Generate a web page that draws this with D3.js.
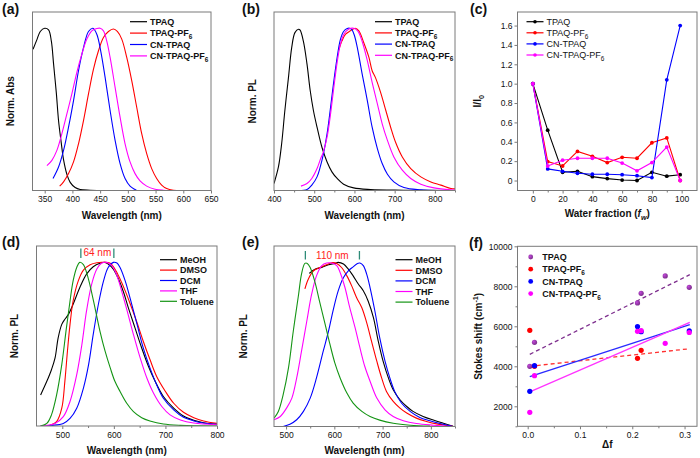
<!DOCTYPE html>
<html><head><meta charset="utf-8">
<script src="https://cdn.jsdelivr.net/npm/d3@7"></script>
<style>
body{margin:0;background:#fff}
svg{display:block}
text{font-family:"Liberation Sans",Arial,Helvetica,sans-serif;fill:#111}
</style>
</head><body>
<svg id="chart" width="700" height="458"></svg>
<script>
// ---------------- DATA ----------------
const seriesNames = ["TPAQ","TPAQ-PF6","CN-TPAQ","CN-TPAQ-PF6"];
const solventNames = ["MeOH","DMSO","DCM","THF","Toluene"];

// (a) normalized absorption  [wavelength nm, norm. abs]
const absTPAQ = [[329,0.87],[336,0.93],[342,0.98],[350,1.0],[357,0.99],[362,0.92],[366,0.78],[371,0.6],[375,0.43],[380,0.29],[384,0.19],[390,0.10],[396,0.05],[405,0.018],[414,0.006],[432,0.002],[463,0]];
const absTPAQPF6 = [[377,0.027],[384,0.053],[393,0.104],[402,0.176],[411,0.288],[420,0.431],[429,0.595],[438,0.748],[447,0.861],[456,0.943],[465,0.98],[474,0.995],[481,0.98],[489,0.933],[498,0.82],[507,0.677],[516,0.513],[525,0.35],[534,0.227],[543,0.135],[552,0.074],[561,0.033],[570,0.012],[582,0.002],[600,0]];
const absCNTPAQ = [[365,0.074],[375,0.145],[384,0.247],[393,0.39],[402,0.554],[411,0.738],[420,0.88],[429,0.98],[437,1.0],[444,0.963],[451,0.861],[459,0.697],[468,0.493],[477,0.309],[486,0.166],[495,0.074],[504,0.027],[513,0.006],[516,0]];
const absCNTPAQPF6 = [[354,0.153],[363,0.186],[372,0.247],[381,0.35],[390,0.472],[399,0.595],[408,0.728],[417,0.84],[426,0.933],[435,0.984],[444,0.998],[450,1.0],[456,0.984],[462,0.92],[468,0.82],[477,0.636],[486,0.452],[495,0.288],[504,0.176],[513,0.104],[522,0.059],[534,0.027],[549,0.008],[564,0.002],[600,0]];

// (b) normalized PL
const plTPAQ = [[400,0.043],[411,0.145],[419,0.288],[427,0.493],[436,0.697],[444,0.88],[452,0.973],[461,0.994],[465,0.988],[473,0.92],[482,0.78],[490,0.616],[498,0.493],[507,0.39],[519,0.268],[532,0.176],[544,0.115],[557,0.074],[573,0.039],[598,0.016],[640,0.006],[723,0.002],[850,0]];
const plTPAQPF6 = [[561,0.865],[569,0.922],[578,0.963],[590,0.984],[602,1.0],[611,0.984],[623,0.912],[636,0.82],[644,0.738],[652,0.697],[665,0.605],[678,0.493],[690,0.39],[702,0.299],[719,0.207],[740,0.135],[765,0.084],[790,0.053],[815,0.033],[840,0.012],[850,0.01]];
const plCNTPAQ = [[457,0],[482,0.006],[494,0.033],[507,0.084],[515,0.145],[523,0.227],[532,0.35],[540,0.5],[548,0.66],[557,0.82],[565,0.93],[573,0.98],[582,0.998],[588,1.0],[594,0.99],[600,0.955],[608,0.87],[619,0.72],[632,0.554],[644,0.39],[657,0.258],[669,0.166],[682,0.1],[698,0.053],[723,0.018],[765,0.004],[807,0]];
const plCNTPAQPF6 = [[467,0.027],[482,0.043],[494,0.074],[507,0.135],[515,0.19],[523,0.24],[532,0.33],[540,0.46],[548,0.62],[557,0.79],[565,0.9],[573,0.96],[586,0.995],[598,1.0],[608,0.984],[619,0.92],[632,0.8],[644,0.667],[657,0.534],[669,0.411],[682,0.309],[698,0.207],[719,0.125],[740,0.074],[765,0.039],[798,0.016],[840,0.004],[850,0.003]];

// (c) I/I0 vs water fraction
const waterFraction = [0,10,20,30,40,50,60,70,80,90,99];
const ratioTPAQ = [1.0,0.52,0.085,0.095,0.04,0.02,0.005,0.0,0.085,0.045,0.06];
const ratioTPAQPF6 = [1.0,0.195,0.15,0.30,0.25,0.185,0.24,0.23,0.39,0.44,0.0];
const ratioCNTPAQ = [1.0,0.12,0.095,0.075,0.065,0.065,0.06,0.05,0.03,1.04,1.60];
const ratioCNTPAQPF6 = [1.0,0.15,0.21,0.23,0.23,0.23,0.18,0.10,0.185,0.345,0.0];

// (d) solvatochromic PL, TPAQ
const dMeOH = [[458,0.19],[470,0.273],[479,0.344],[486,0.416],[492,0.539],[499,0.621],[505,0.652],[512,0.682],[521,0.744],[534,0.846],[547,0.928],[560,0.973],[573,0.994],[583,1.0],[589,0.99],[599,0.959],[609,0.898],[619,0.816],[628,0.723],[641,0.6],[654,0.477],[667,0.365],[680,0.273],[696,0.18],[716,0.109],[735,0.061],[755,0.035],[774,0.02],[800,0.01]];
const dDMSO = [[458,0],[476,0.004],[489,0.027],[499,0.109],[505,0.273],[510,0.457],[515,0.621],[521,0.764],[531,0.887],[541,0.953],[554,0.986],[567,0.998],[580,1.0],[593,0.994],[602,0.959],[612,0.898],[622,0.826],[632,0.744],[645,0.631],[657,0.518],[670,0.406],[683,0.303],[700,0.211],[716,0.139],[735,0.084],[755,0.051],[774,0.031],[800,0.016]];
const dDCM = [[458,0],[480,0.004],[502,0.016],[515,0.047],[528,0.109],[541,0.232],[551,0.375],[560,0.56],[570,0.744],[580,0.887],[589,0.969],[599,1.0],[606,0.996],[612,0.969],[622,0.887],[632,0.775],[645,0.621],[657,0.477],[670,0.355],[683,0.252],[696,0.17],[716,0.098],[735,0.053],[755,0.031],[774,0.018],[800,0.01]];
const dTHF = [[458,0],[486,0.016],[502,0.057],[515,0.15],[528,0.314],[538,0.498],[547,0.703],[557,0.867],[567,0.959],[576,0.994],[586,1.0],[596,0.98],[606,0.918],[615,0.826],[625,0.713],[638,0.559],[651,0.416],[664,0.293],[677,0.2],[693,0.119],[709,0.068],[729,0.037],[755,0.018],[800,0.008]];
const dToluene = [[458,0],[470,0.016],[479,0.068],[489,0.19],[499,0.375],[508,0.6],[515,0.764],[521,0.887],[528,0.969],[534,1.0],[541,0.986],[547,0.939],[554,0.857],[564,0.713],[573,0.58],[583,0.457],[593,0.355],[602,0.273],[612,0.211],[625,0.139],[638,0.088],[654,0.051],[670,0.031],[696,0.012],[729,0.004],[800,0]];

// (e) solvatochromic PL, CN-TPAQ
const eMeOH = [[548,0.933],[560,0.959],[574,0.969],[588,0.986],[601,0.994],[608,1.0],[619,0.99],[629,0.959],[639,0.918],[650,0.867],[660,0.827],[670,0.765],[681,0.663],[691,0.52],[701,0.398],[712,0.296],[722,0.224],[736,0.163],[750,0.122],[763,0.092],[784,0.061],[805,0.039],[826,0.02],[846,0.002]];
const eDMSO = [[539,0.839],[546,0.898],[557,0.949],[570,0.969],[584,0.986],[594,0.998],[605,0.994],[615,0.969],[626,0.918],[636,0.857],[646,0.786],[657,0.724],[667,0.633],[677,0.52],[688,0.398],[698,0.296],[708,0.214],[722,0.153],[736,0.112],[750,0.082],[770,0.051],[791,0.031],[812,0.016],[846,0.002]];
const eDCM = [[494,0],[508,0.014],[522,0.041],[536,0.092],[550,0.173],[563,0.296],[577,0.459],[588,0.582],[598,0.714],[608,0.827],[619,0.908],[629,0.949],[639,0.973],[648,0.994],[653,0.996],[660,0.98],[667,0.929],[674,0.847],[684,0.704],[694,0.541],[705,0.398],[715,0.296],[725,0.214],[739,0.143],[757,0.092],[777,0.055],[798,0.035],[819,0.018],[846,0]];
const eTHF = [[475,0.041],[488,0.061],[501,0.112],[512,0.173],[522,0.296],[532,0.459],[543,0.643],[553,0.806],[563,0.918],[574,0.98],[584,0.996],[594,0.996],[605,0.98],[612,0.939],[622,0.847],[632,0.724],[643,0.602],[653,0.48],[663,0.367],[674,0.276],[688,0.173],[705,0.102],[722,0.061],[743,0.035],[770,0.018],[805,0.008],[846,0]];
const eToluene = [[475,0.051],[484,0.092],[494,0.194],[505,0.357],[515,0.582],[526,0.806],[532,0.929],[539,0.994],[544,0.994],[550,0.969],[560,0.878],[570,0.755],[581,0.622],[591,0.5],[601,0.388],[612,0.296],[626,0.204],[639,0.143],[657,0.092],[674,0.061],[694,0.039],[722,0.02],[757,0.008],[798,0.002]];

// (f) Stokes shift vs delta f
const dfTPAQ = [0.004,0.013,0.210,0.217,0.263,0.309];
const ssTPAQ = [4000,5200,7170,7650,8520,7950];
const dfTPAQPF6 = [0.004,0.013,0.210,0.217];
const ssTPAQPF6 = [5800,4000,4400,4800];
const dfCNTPAQ = [0.004,0.013,0.210,0.217,0.309];
const ssCNTPAQ = [2750,4030,5990,5730,5770];
const dfCNTPAQPF6 = [0.004,0.013,0.210,0.217,0.263,0.309];
const ssCNTPAQPF6 = [1700,3530,5750,5780,5150,5690];
// linear fits (end points: [delta f, Stokes shift])
const fitTPAQ = [[0.004,4600],[0.31,8580]];
const fitTPAQPF6 = [[0.004,4000],[0.31,4880]];
const fitCNTPAQ = [[0.004,3480],[0.31,6080]];
const fitCNTPAQPF6 = [[0.004,2720],[0.31,6200]];

// annotations (peak wavelengths)
const shiftD = {label:"64 nm", from:536, to:600};
const shiftE = {label:"110 nm", from:540, to:652};

// tick values
const ticksA = [350,400,450,500,550,600,650];
const ticksB = [400,500,600,700,800];
const ticksC_x = [0,20,40,60,80,100];
const ticksC_y = [0,0.2,0.4,0.6,0.8,1.0,1.2,1.4,1.6];
const ticksD = [500,600,700,800];
const ticksE = [500,600,700,800];
const ticksF_x = [0.0,0.1,0.2,0.3];
const ticksF_y = [2000,4000,6000,8000,10000];

// ---------------- DRAWING ----------------
const COL4 = ["#000000","#ff0000","#0000ff","#ff00ff"];
const COL5 = ["#000000","#ff0000","#0000ff","#ff00ff","#149414"];
const PURPLE = "#7e2f8e";
const TEAL = "#2e8b78";
const FRAME = "#7a7a7a";
const TICKFS = 8.5, LEGFS = 9;
const svg = d3.select("#chart");
const defs = svg.append("defs");

function rich(sel, parts, fs){
  let off = 0;
  parts.forEach(p=>{
    const t = sel.append("tspan").text(p.t);
    let target = 0;
    if (p.sub){ target = fs*0.3; t.attr("font-size", fs*0.72); }
    if (p.sup){ target = -fs*0.38; t.attr("font-size", fs*0.72); }
    if (target - off !== 0) t.attr("dy", target - off);
    off = target;
    if (p.it) t.attr("font-style","italic");
  });
  return sel;
}
function nameParts(n){
  if (n.endsWith("PF6")) return [{t:n.slice(0,-1)},{t:"6",sub:true}];
  return [{t:n}];
}

let clipId = 0;
function makePanel(box, xd, yd){
  const g = svg.append("g");
  const x = d3.scaleLinear().domain(xd).range([box.l, box.r]);
  const y = d3.scaleLinear().domain(yd).range([box.b, box.t]);
  const id = "clip"+(clipId++);
  defs.append("clipPath").attr("id", id).append("rect")
    .attr("x", box.l).attr("y", box.t).attr("width", box.r-box.l).attr("height", box.b-box.t);
  const plot = g.append("g").attr("clip-path", `url(#${id})`);
  g.append("rect").attr("x", box.l).attr("y", box.t).attr("width", box.r-box.l).attr("height", box.b-box.t)
    .attr("fill","none").attr("stroke", FRAME).attr("stroke-width",1);
  return {g, plot, x, y, box};
}
function styleAxis(a){
  a.select(".domain").remove();
  a.selectAll(".tick line").attr("stroke", FRAME);
  a.selectAll("text").attr("font-size", TICKFS).attr("fill","#222")
    .attr("font-family",'"Liberation Sans",Arial,sans-serif');
}
function xAxis(p, ticks, minor, fmt){
  if (minor) {
    const m = p.g.append("g").attr("transform",`translate(0,${p.box.b})`)
      .call(d3.axisBottom(p.x).tickValues(minor).tickSize(2).tickFormat(""));
    styleAxis(m);
  }
  const a = p.g.append("g").attr("transform",`translate(0,${p.box.b})`)
    .call(d3.axisBottom(p.x).tickValues(ticks).tickSize(3).tickPadding(2.5).tickFormat(fmt || d3.format("d")));
  styleAxis(a);
}
function yAxis(p, ticks, minor, fmt){
  if (minor) {
    const m = p.g.append("g").attr("transform",`translate(${p.box.l},0)`)
      .call(d3.axisLeft(p.y).tickValues(minor).tickSize(2).tickFormat(""));
    styleAxis(m);
  }
  const a = p.g.append("g").attr("transform",`translate(${p.box.l},0)`)
    .call(d3.axisLeft(p.y).tickValues(ticks).tickSize(3).tickPadding(2).tickFormat(fmt));
  styleAxis(a);
}
function xTitle(p, parts, dy){
  const t = p.g.append("text").attr("x",(p.box.l+p.box.r)/2).attr("y", p.box.b+dy)
    .attr("text-anchor","middle").attr("font-size",10).attr("font-weight","bold");
  rich(t, parts, 10);
}
function yTitle(p, parts, xb){
  const t = p.g.append("text").attr("transform",`translate(${xb},${(p.box.t+p.box.b)/2}) rotate(-90)`)
    .attr("text-anchor","middle").attr("font-size",10).attr("font-weight","bold");
  rich(t, parts, 10);
}
function panelLabel(txt, x, y){
  svg.append("text").attr("x",x).attr("y",y).attr("font-size",14).attr("font-weight","bold").text(txt);
}
function curve(p, data, color, w){
  p.plot.append("path").datum(data).attr("fill","none").attr("stroke",color).attr("stroke-width",w||1.1)
    .attr("stroke-linejoin","round")
    .attr("d", d3.line().x(d=>p.x(d[0])).y(d=>p.y(d[1])).curve(d3.curveCatmullRom.alpha(0.5)));
}
function lineLegend(p, names, colors, x0, y0, dy, bold, withMarker){
  names.forEach((n,i)=>{
    const yy = y0 + i*dy;
    p.g.append("line").attr("x1",x0).attr("x2",x0+17).attr("y1",yy).attr("y2",yy)
      .attr("stroke",colors[i]).attr("stroke-width",1.2);
    if (withMarker) p.g.append("circle").attr("cx",x0+8.5).attr("cy",yy).attr("r",1.8).attr("fill",colors[i]);
    const t = p.g.append("text").attr("x",x0+20).attr("y",yy+3.2).attr("font-size",LEGFS)
      .attr("font-weight", bold ? "bold" : "normal");
    rich(t, nameParts(n), LEGFS);
  });
}

// ---- (a) ----
const pa = makePanel({l:32.5,r:211,t:12,b:190.5},[328,650],[0,1.1]);
[absTPAQ,absTPAQPF6,absCNTPAQ,absCNTPAQPF6].forEach((d,i)=>curve(pa,d,COL4[i]));
xAxis(pa, ticksA, null);
xTitle(pa,[{t:"Wavelength (nm)"}],28.5);
yTitle(pa,[{t:"Norm. Abs"}],14);
lineLegend(pa, seriesNames, COL4, 130, 21.7, 11.4, true);
panelLabel("(a)",2,14);

// ---- (b) ----
const pb = makePanel({l:274,r:455,t:12,b:190.5},[400,850],[0,1.1]);
[plTPAQ,plTPAQPF6,plCNTPAQ,plCNTPAQPF6].forEach((d,i)=>curve(pb,d,COL4[i]));
xAxis(pb, ticksB, [450,550,650,750,850]);
xTitle(pb,[{t:"Wavelength (nm)"}],28.5);
yTitle(pb,[{t:"Norm. PL"}],256);
lineLegend(pb, seriesNames, COL4, 375, 21.7, 11.2, true);
panelLabel("(b)",242,14);

// ---- (c) ----
const pc = makePanel({l:517.5,r:697,t:12,b:190.5},[-10.3,110.3],[-0.103,1.74]);
[ratioTPAQ,ratioTPAQPF6,ratioCNTPAQ,ratioCNTPAQPF6].forEach((vals,i)=>{
  const pts = waterFraction.map((w,k)=>[w, vals[k]]);
  pc.plot.append("path").datum(pts).attr("fill","none").attr("stroke",COL4[i]).attr("stroke-width",1.1)
    .attr("d", d3.line().x(d=>pc.x(d[0])).y(d=>pc.y(d[1])));
  pc.plot.selectAll(null).data(pts).enter().append("circle")
    .attr("cx",d=>pc.x(d[0])).attr("cy",d=>pc.y(d[1])).attr("r",1.9).attr("fill",COL4[i]);
});
xAxis(pc, ticksC_x, [10,30,50,70,90]);
yAxis(pc, ticksC_y, null, d=> d===0 ? "0" : d3.format(".1f")(d));
xTitle(pc,[{t:"Water fraction ("},{t:"f",it:true},{t:"w",sub:true,it:true},{t:")"}],26);
yTitle(pc,[{t:"I/I"},{t:"0",sub:true}],481);
lineLegend(pc, seriesNames, COL4, 526.5, 21.7, 11.1, false, true);
panelLabel("(c)",470,14);

// ---- (d) ----
const pd = makePanel({l:36.5,r:217,t:246,b:426},[450,800],[0,1.1]);
[dMeOH,dDMSO,dDCM,dTHF,dToluene].forEach((d,i)=>curve(pd,d,COL5[i]));
xAxis(pd, ticksD, [550,650,750]);
xTitle(pd,[{t:"Wavelength (nm)"}],27.5);
yTitle(pd,[{t:"Norm. PL"}],18);
lineLegend(pd, solventNames, COL5, 160, 259.7, 10.4, true);
panelLabel("(d)",2,247);

// ---- (e) ----
const pe = makePanel({l:274,r:455,t:246,b:426.5},[475,850],[0,1.1]);
[eMeOH,eDMSO,eDCM,eTHF,eToluene].forEach((d,i)=>curve(pe,d,COL5[i]));
xAxis(pe, ticksE, [550,650,750,850]);
xTitle(pe,[{t:"Wavelength (nm)"}],27);
yTitle(pe,[{t:"Norm. PL"}],247);
lineLegend(pe, solventNames, COL5, 395.5, 259.7, 10.6, true);
panelLabel("(e)",242,247);

// annotations d/e
function shiftMark(p, s, yTop, yBot, tb){
  [s.from, s.to].forEach(w=>{
    p.g.append("line").attr("x1",p.x(w)).attr("x2",p.x(w)).attr("y1",yTop).attr("y2",yBot)
      .attr("stroke",TEAL).attr("stroke-width",1.3);
  });
  p.g.append("text").attr("x",(p.x(s.from)+p.x(s.to))/2).attr("y",tb).attr("text-anchor","middle")
    .attr("font-size",10).style("fill","#ff2020").text(s.label);
}
shiftMark(pd, shiftD, 248.5, 258, 256);
shiftMark(pe, shiftE, 251, 259.5, 259);

// ---- (f) ----
const pf = makePanel({l:517.5,r:697,t:246.3,b:426.3},[-0.0195,0.3238],[1000,10000]);
const fitSty = [{c:PURPLE,dash:"4,3"},{c:"#ff3030",dash:"4,3"},{c:"#2a2aff",dash:null},{c:"#ff33ff",dash:null}];
[fitTPAQ,fitTPAQPF6,fitCNTPAQ,fitCNTPAQPF6].forEach((d,i)=>{
  pf.plot.append("path").datum(d).attr("fill","none").attr("stroke",fitSty[i].c).attr("stroke-width",1.3)
    .attr("stroke-dasharray",fitSty[i].dash)
    .attr("d", d3.line().x(v=>pf.x(v[0])).y(v=>pf.y(v[1])));
});
const FCOL = [PURPLE,"#ff0000","#0000ff","#ff00ff"];
FCOL.forEach((c,i)=>{
  const gr = defs.append("radialGradient").attr("id","ball"+i).attr("cx","35%").attr("cy","35%").attr("r","65%");
  gr.append("stop").attr("offset","0%").attr("stop-color",d3.color(c).brighter(1.2));
  gr.append("stop").attr("offset","100%").attr("stop-color",c);
});
[[dfTPAQ,ssTPAQ],[dfTPAQPF6,ssTPAQPF6],[dfCNTPAQ,ssCNTPAQ],[dfCNTPAQPF6,ssCNTPAQPF6]].forEach((s,i)=>{
  const pts = s[0].map((x,k)=>[x,s[1][k]]);
  pf.plot.selectAll(null).data(pts).enter().append("circle")
    .attr("cx",d=>pf.x(d[0])).attr("cy",d=>pf.y(d[1])).attr("r",2.6).attr("fill",`url(#ball${i})`);
});
xAxis(pf, ticksF_x, [0.05,0.15,0.25], d3.format(".1f"));
yAxis(pf, ticksF_y, [1000,3000,5000,7000,9000], d3.format("d"));
xTitle(pf,[{t:"\u0394f"}],22);
yTitle(pf,[{t:"Stokes shift  (cm"},{t:"-1",sup:true},{t:")"}],482);
seriesNames.forEach((n,i)=>{
  const yy = 257 + i*12.2;
  pf.g.append("circle").attr("cx",530.7).attr("cy",yy).attr("r",2.4).attr("fill",`url(#ball${i})`);
  const t = pf.g.append("text").attr("x",542.3).attr("y",yy+3.2).attr("font-size",LEGFS).attr("font-weight","bold");
  rich(t, nameParts(n), LEGFS);
});
panelLabel("(f)",469,248);
</script>
</body></html>
